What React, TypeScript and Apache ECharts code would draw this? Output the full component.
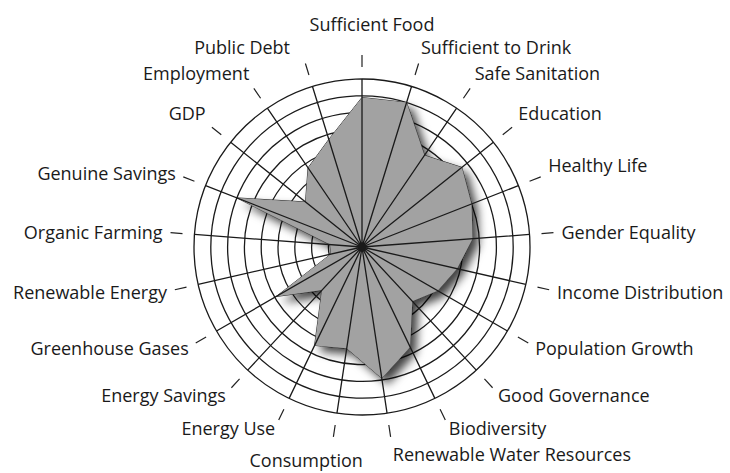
import React, { useEffect, useRef } from 'react';
import * as echarts from 'echarts';

// Indicators in clockwise order starting at the top
const indicators = [
  'Sufficient Food',
  'Sufficient to Drink',
  'Safe Sanitation',
  'Education',
  'Healthy Life',
  'Gender Equality',
  'Income Distribution',
  'Population Growth',
  'Good Governance',
  'Biodiversity',
  'Renewable Water Resources',
  'Consumption',
  'Energy Use',
  'Energy Savings',
  'Greenhouse Gases',
  'Renewable Energy',
  'Organic Farming',
  'Genuine Savings',
  'GDP',
  'Employment',
  'Public Debt',
];

const values = [
  8.9, 9.0, 6.6, 7.6, 7.0, 6.6, 5.8, 5.2, 4.4, 6.6, 7.9, 6.1, 6.5, 3.5, 5.9, 1.9, 1.9, 8.0, 4.3, 5.7,
  6.7,
];

const maxValue = 10;
const ringCount = 10;

export default function App() {
  const ref = useRef<HTMLDivElement>(null);

  useEffect(() => {
    if (!ref.current) return;
    const chart = echarts.init(ref.current, null, { renderer: 'svg' });
    const center = [362, 247];
    const fontFamily = '"Open Sans", sans-serif';
    const fontSize = 18;

    const ctx = document.createElement('canvas').getContext('2d');
    let measure = (s: string) => s.length * fontSize * 0.5;
    if (ctx) {
      ctx.font = `${fontSize}px "Open Sans"`;
      measure = (s: string) => ctx.measureText(s).width;
    }

    const labelTweaks: Record<string, any> = {
      'Sufficient Food': { padding: [0, 0, 14, 20] },
      'Public Debt': { padding: [0, 13, 0, 0] },
      'Renewable Water Resources': {
        padding: [0, 0, 0, measure('Renewable Water Resources') + 2],
      },
      Consumption: { padding: [6, 52, 0, 0] },
      'Population Growth': { lineHeight: 2 },
      'Good Governance': { lineHeight: 2 },
      Biodiversity: { lineHeight: 2 },
      'Energy Use': { lineHeight: 2 },
      'Energy Savings': { lineHeight: 2 },
      'Greenhouse Gases': { lineHeight: 2 },
      'Genuine Savings': { lineHeight: 2 },
    };

    const labelData = indicators.map((name) => ({
      value: name,
      textStyle: labelTweaks[name] || {},
    }));

    // radar indicators run counter-clockwise
    const ccwNames = [indicators[0], ...indicators.slice(1).reverse()];
    const ccwValues = [values[0], ...values.slice(1).reverse()];

    chart.setOption({
      animation: false,
      backgroundColor: '#ffffff',
      radar: {
        center,
        radius: 168,
        startAngle: 90,
        shape: 'circle',
        splitNumber: ringCount,
        indicator: ccwNames.map((n) => ({ name: n, min: 0, max: maxValue })),
        axisName: { show: false },
        axisLine: { show: false },
        axisTick: { show: false },
        axisLabel: { show: false },
        splitArea: { show: false },
        splitLine: { lineStyle: { color: '#1a1a1a', width: 1.3 } },
        z: 1,
      },
      polar: [
        { center, radius: 168 },
        { center, radius: 180 },
      ],
      angleAxis: [
        {
          polarIndex: 0,
          type: 'category',
          data: indicators,
          boundaryGap: false,
          startAngle: 90,
          clockwise: true,
          axisLine: { show: false },
          axisTick: { show: false, interval: 0 },
          axisLabel: { show: false, interval: 0 },
          splitLine: { show: true, interval: 0, lineStyle: { color: '#1a1a1a', width: 1.3 } },
          z: 10,
        },
        {
          polarIndex: 1,
          type: 'category',
          data: labelData,
          boundaryGap: false,
          startAngle: 90,
          clockwise: true,
          axisLine: { show: false },
          axisTick: {
            show: true,
            interval: 0,
            length: 12,
            lineStyle: { color: '#222', width: 1.2 },
          },
          axisLabel: {
            interval: 0,
            margin: 20,
            fontSize,
            fontFamily,
            color: '#1a1a1a',
          },
          splitLine: { show: false },
          z: 3,
        },
      ],
      radiusAxis: [
        { polarIndex: 0, show: false, min: 0, max: maxValue },
        { polarIndex: 1, show: false, min: 0, max: maxValue },
      ],
      series: [
        {
          type: 'radar',
          radarIndex: 0,
          symbol: 'none',
          z: 2,
          lineStyle: { color: '#2a2a2a', width: 1 },
          areaStyle: {
            color: '#a2a2a2',
            opacity: 1,
            shadowColor: 'rgba(0,0,0,0.75)',
            shadowBlur: 10,
            shadowOffsetX: 6,
            shadowOffsetY: 6,
          },
          data: [{ value: ccwValues, name: 'Indicators' }],
        },
      ],
    });

    return () => chart.dispose();
  }, []);

  return (
    <div
      ref={ref}
      style={{ position: 'fixed', left: 0, top: 0, width: 730, height: 473, background: '#fff' }}
    />
  );
}
